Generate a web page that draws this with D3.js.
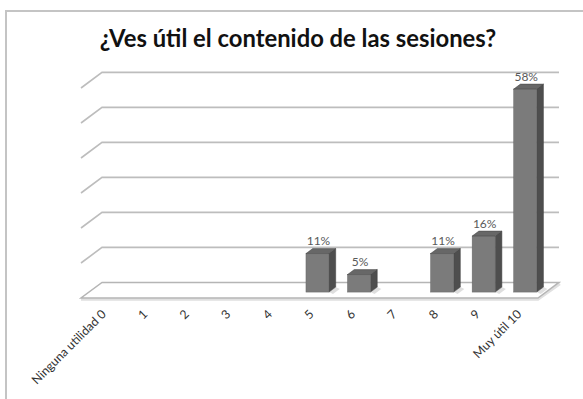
<!DOCTYPE html>
<html>
<head>
<meta charset="utf-8">
<script src="https://cdn.jsdelivr.net/npm/d3@7"></script>
<style>
  html, body { margin: 0; padding: 0; background: #fff; }
  svg { display: block; }
</style>
</head>
<body>
<svg id="chart" width="583" height="399"></svg>
<script>
const title = "¿Ves útil el contenido de las sesiones?";
const categories = ["Ninguna utilidad 0", "1", "2", "3", "4", "5", "6", "7", "8", "9", "Muy útil 10"];
const values = [0, 0, 0, 0, 0, 11, 5, 0, 11, 16, 58];
const valueLabels = ["", "", "", "", "", "11%", "5%", "", "11%", "16%", "58%"];
const gridTicks = [0, 10, 20, 30, 40, 50, 60];

const svg = d3.select("#chart");

// frame
svg.append("rect").attr("x", 6).attr("y", 11).attr("width", 600).attr("height", 420)
  .attr("fill", "#fff").attr("stroke", "#c4c4c4").attr("stroke-width", 2);

// title
svg.append("text").attr("x", 298).attr("y", 47).attr("text-anchor", "middle")
  .attr("font-family", "Lato, 'Open Sans', sans-serif").attr("font-weight", "bold")
  .attr("font-size", 23.8).attr("fill", "#111").text(title);

// 3D geometry
const floorFront = 298, depthDX = 21, depthDY = -15.6;
const x = d3.scaleBand().domain(categories).range([81, 538]).paddingInner(0).paddingOuter(0);
const h = d3.scaleLinear().domain([0, 60]).range([0, 210]);

// gridlines (back wall + left side)
const gl = svg.append("g");
gridTicks.forEach(t => {
  const yb = floorFront + depthDY - h(t);
  if (t === 0) return;
  gl.append("path")
    .attr("d", `M${81},${yb - depthDY} L${81 + depthDX},${yb} L${559},${yb}`)
    .attr("fill", "none").attr("stroke", "#bdbdbd").attr("stroke-width", 1.6);
});

// floor
const yb0 = floorFront + depthDY - h(0);
svg.append("path")
  .attr("d", `M81,${floorFront + 1.5} L538,${floorFront + 1.5} L${559 + 1},${yb0 + 1.5}`)
  .attr("fill", "none").attr("stroke", "#e0e0e0").attr("stroke-width", 2.5);
svg.append("path")
  .attr("d", `M81,${floorFront} L538,${floorFront} L559,${yb0} L${81 + depthDX},${yb0} Z`)
  .attr("fill", "#fff").attr("stroke", "#b5b5b5").attr("stroke-width", 1.5);

// bars
const dFront = 0.38, dBack = 0.70;
const bw = 23;
const bars = svg.append("g");
categories.forEach((c, i) => {
  const v = values[i];
  if (v <= 0) return;
  const cx = x(c) + x.bandwidth() / 2 + depthDX * dFront;
  const by = floorFront + depthDY * dFront;
  const ox = depthDX * (dBack - dFront), oy = depthDY * (dBack - dFront);
  const x0 = cx - bw / 2, x1 = cx + bw / 2;
  const top = by - h(v);
  // shadow
  bars.append("path")
    .attr("d", `M${x1},${by} L${x1 + ox},${by + oy} L${x1 + ox + 4},${by + oy + 2} L${x1 + 4},${by + 2} Z`)
    .attr("fill", "#d0d0d0").attr("opacity", 0.7);
  // side
  bars.append("path")
    .attr("d", `M${x1},${by} L${x1 + ox},${by + oy} L${x1 + ox},${top + oy} L${x1},${top} Z`)
    .attr("fill", "#4e4e4e").attr("stroke", "#3e3e3e").attr("stroke-width", 0.5);
  // front
  bars.append("rect").attr("x", x0).attr("y", top).attr("width", bw).attr("height", by - top)
    .attr("fill", "#7b7b7b").attr("stroke", "#666").attr("stroke-width", 0.5);
  // top
  bars.append("path")
    .attr("d", `M${x0},${top} L${x1},${top} L${x1 + ox},${top + oy} L${x0 + ox},${top + oy} Z`)
    .attr("fill", "#676767").attr("stroke", "#444").attr("stroke-width", 0.5);
  // value label
  bars.append("text").attr("x", cx + 1).attr("y", top + oy - 3.5).attr("text-anchor", "middle")
    .attr("font-family", "Lato, 'Open Sans', sans-serif").attr("font-size", 12)
    .attr("fill", "#595959").text(valueLabels[i]);
});

// category labels
const lab = svg.append("g");
categories.forEach(c => {
  const cx = x(c) + x.bandwidth() / 2;
  lab.append("text")
    .attr("transform", `translate(${cx + 5},${315}) rotate(-45)`)
    .attr("text-anchor", "end")
    .attr("font-family", "Lato, 'Open Sans', sans-serif").attr("font-size", 12.3)
    .attr("fill", "#333").text(c);
});
</script>
</body>
</html>
